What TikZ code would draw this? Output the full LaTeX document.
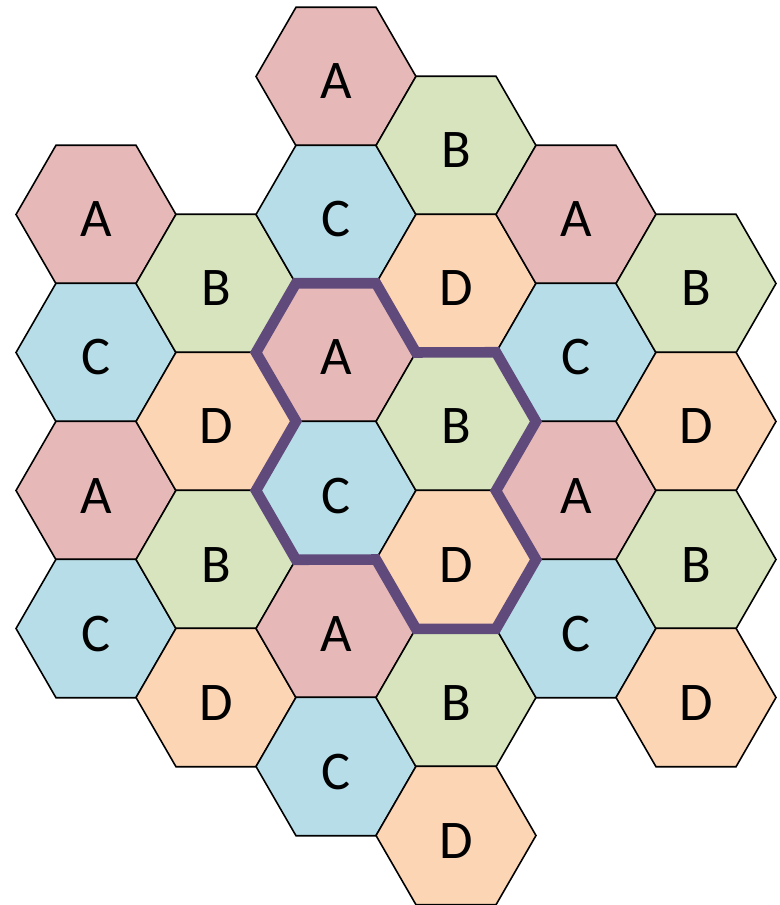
\documentclass[tikz,border=0pt]{standalone}
\usepackage{fontspec}
\setmainfont{Carlito}
\usetikzlibrary{shapes.geometric}
\definecolor{CellRose}{HTML}{E6B9B8}
\definecolor{CellOlive}{HTML}{D7E4BD}
\definecolor{CellAqua}{HTML}{B7DEE8}
\definecolor{CellPeach}{HTML}{FCD5B5}
\definecolor{ClusterPurple}{HTML}{604A7B}
\tikzset{
    % Hexagon styles - flat top
    cell/.style={
        regular polygon,
        regular polygon sides=6,
        draw=black,
        line width=0.9pt,
        minimum size=3.2cm,
        inner sep=0pt,
        outer sep=0pt,
        text height=0.9cm,
        text depth=0pt,
        font=\fontsize{31}{36}\selectfont
    },
    cellA/.style={cell, fill=CellRose},
    cellB/.style={cell, fill=CellOlive},
    cellC/.style={cell, fill=CellAqua},
    cellD/.style={cell, fill=CellPeach},
    % Cluster outline
    cluster/.style={
        draw=ClusterPurple,
        line width=6pt
    }
}
\begin{document}
\begin{tikzpicture}[x=0.02cm, y=-0.02cm]
    \useasboundingbox (0,0) rectangle (779,905);

    % column 1
    \node[cellA] (n11) at (96,214.5) {A};
    \node[cellC] (n12) at (96,352.5) {C};
    \node[cellA] (n13) at (96,490.5) {A};
    \node[cellC] (n14) at (96,628.5) {C};

    % column 2
    \node[cellB] (n21) at (216,283.5) {B};
    \node[cellD] (n22) at (216,421.5) {D};
    \node[cellB] (n23) at (216,559.5) {B};
    \node[cellD] (n24) at (216,697.5) {D};

    % column 3
    \node[cellA] (n31) at (336,76.5) {A};
    \node[cellC] (n32) at (336,214.5) {C};
    \node[cellA] (n33) at (336,352.5) {A};
    \node[cellC] (n34) at (336,490.5) {C};
    \node[cellA] (n35) at (336,628.5) {A};
    \node[cellC] (n36) at (336,766.5) {C};

    % column 4
    \node[cellB] (n41) at (456,145.5) {B};
    \node[cellD] (n42) at (456,283.5) {D};
    \node[cellB] (n43) at (456,421.5) {B};
    \node[cellD] (n44) at (456,559.5) {D};
    \node[cellB] (n45) at (456,697.5) {B};
    \node[cellD] (n46) at (456,835.5) {D};

    % column 5
    \node[cellA] (n51) at (576,214.5) {A};
    \node[cellC] (n52) at (576,352.5) {C};
    \node[cellA] (n53) at (576,490.5) {A};
    \node[cellC] (n54) at (576,628.5) {C};

    % column 6
    \node[cellB] (n61) at (696,283.5) {B};
    \node[cellD] (n62) at (696,421.5) {D};
    \node[cellB] (n63) at (696,559.5) {B};
    \node[cellD] (n64) at (696,697.5) {D};

    % cluster of four cells
    \draw[cluster] (n33.corner 2) -- (n33.corner 1) -- (n33.corner 6)
        -- (n43.corner 1) -- (n43.corner 6) -- (n43.corner 5)
        -- (n44.corner 6) -- (n44.corner 5) -- (n44.corner 4)
        -- (n44.corner 3) -- (n34.corner 4) -- (n34.corner 3)
        -- (n34.corner 2) -- (n33.corner 3) -- cycle;
\end{tikzpicture}
\end{document}
